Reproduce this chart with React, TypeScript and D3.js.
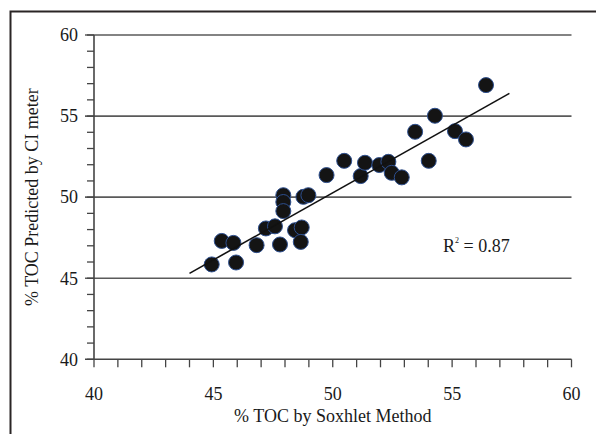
import React from 'react';
import * as d3 from 'd3';

// % TOC by Soxhlet method (x) vs % TOC predicted by CI meter (y)
const soxhlet = [
  44.93, 45.95, 45.35, 45.84, 46.81, 47.2, 47.58, 47.79, 47.93, 47.93,
  47.93, 48.42, 48.7, 48.66, 48.77, 48.98, 49.74, 50.48, 51.17, 51.35,
  51.95, 52.33, 52.47, 52.89, 54.02, 53.45, 54.28, 55.12, 55.58, 56.42,
];
const ciMeter = [
  45.85, 45.97, 47.3, 47.18, 47.04, 48.07, 48.2, 47.08, 50.12, 49.7,
  49.14, 47.96, 48.13, 47.24, 50.02, 50.12, 51.36, 52.24, 51.3, 52.12,
  51.98, 52.18, 51.5, 51.22, 52.24, 54.03, 55.02, 54.07, 53.56, 56.91,
];
// trend line end points as drawn
const trendX = [44.0, 57.4];
const trendY = [45.3, 56.4];

const majorTicks = [40, 45, 50, 55, 60];
const minorTicks = d3.range(40, 61, 1);
const rSquared = '0.87';

const W = 596;
const H = 434;
const left = 94;
const right = 571.5;
const top = 35;
const bottom = 359.3;

const font = '"Liberation Serif", "Times New Roman", serif';

export default function App() {
  const x = d3.scaleLinear().domain([40, 60]).range([left, right]);
  const y = d3.scaleLinear().domain([40, 60]).range([bottom, top]);

  const line = d3
    .line<number>()
    .x((d) => x(trendX[d]))
    .y((d) => y(trendY[d]));

  return (
    <svg
      width={W}
      height={H}
      style={{ position: 'absolute', left: 0, top: 0, background: '#fff' }}
      fontFamily={font}
    >
      {/* frame */}
      <path d={`M10.5,${H} V11.5 H${W}`} fill="none" stroke="#2a2525" strokeWidth={2} />

      {/* horizontal gridlines */}
      {majorTicks.slice(1).map((t) => (
        <line key={'g' + t} x1={left - 9} x2={right} y1={y(t)} y2={y(t)} stroke="#5a5a5a" strokeWidth={1.6} />
      ))}

      {/* y minor ticks */}
      {minorTicks.map((t) => (
        <line key={'ym' + t} x1={left - 7} x2={left} y1={y(t)} y2={y(t)} stroke="#444" strokeWidth={1.3} />
      ))}
      {/* x ticks */}
      {minorTicks.map((t) => (
        <line key={'xm' + t} x1={x(t)} x2={x(t)} y1={bottom} y2={bottom + 8} stroke="#444" strokeWidth={1.3} />
      ))}

      {/* axes */}
      <line x1={left} x2={left} y1={top} y2={bottom} stroke="#444" strokeWidth={1.6} />
      <line x1={left - 9} x2={right} y1={bottom} y2={bottom} stroke="#444" strokeWidth={1.6} />

      {/* tick labels */}
      {majorTicks.map((t) => (
        <text key={'yl' + t} x={78} y={y(t)} dy="0.35em" textAnchor="end" fontSize={18} fill="#1a1a1a">
          {t}
        </text>
      ))}
      {majorTicks.map((t) => (
        <text key={'xl' + t} x={x(t)} y={400} textAnchor="middle" fontSize={18} fill="#1a1a1a">
          {t}
        </text>
      ))}

      {/* axis titles */}
      <text x={(left + right) / 2} y={422} textAnchor="middle" fontSize={18} fill="#1a1a1a">
        % TOC by Soxhlet Method
      </text>
      <text
        transform={`translate(38,${(top + bottom) / 2}) rotate(-90)`}
        textAnchor="middle"
        fontSize={18}
        fill="#1a1a1a"
      >
        % TOC Predicted by CI meter
      </text>

      {/* points */}
      {soxhlet.map((v, i) => (
        <circle key={'p' + i} cx={x(v)} cy={y(ciMeter[i])} r={7.5} fill="#141414" stroke="#2d4f8f" strokeWidth={1} />
      ))}

      {/* trend line */}
      <path d={line([0, 1]) ?? ''} fill="none" stroke="#111" strokeWidth={1.6} />

      {/* R squared */}
      <text x={443} y={251.5} fontSize={18} fill="#1a1a1a">
        R<tspan fontSize={8} dy={-9}>2</tspan>
        <tspan dy={9}> = {rSquared}</tspan>
      </text>
    </svg>
  );
}
